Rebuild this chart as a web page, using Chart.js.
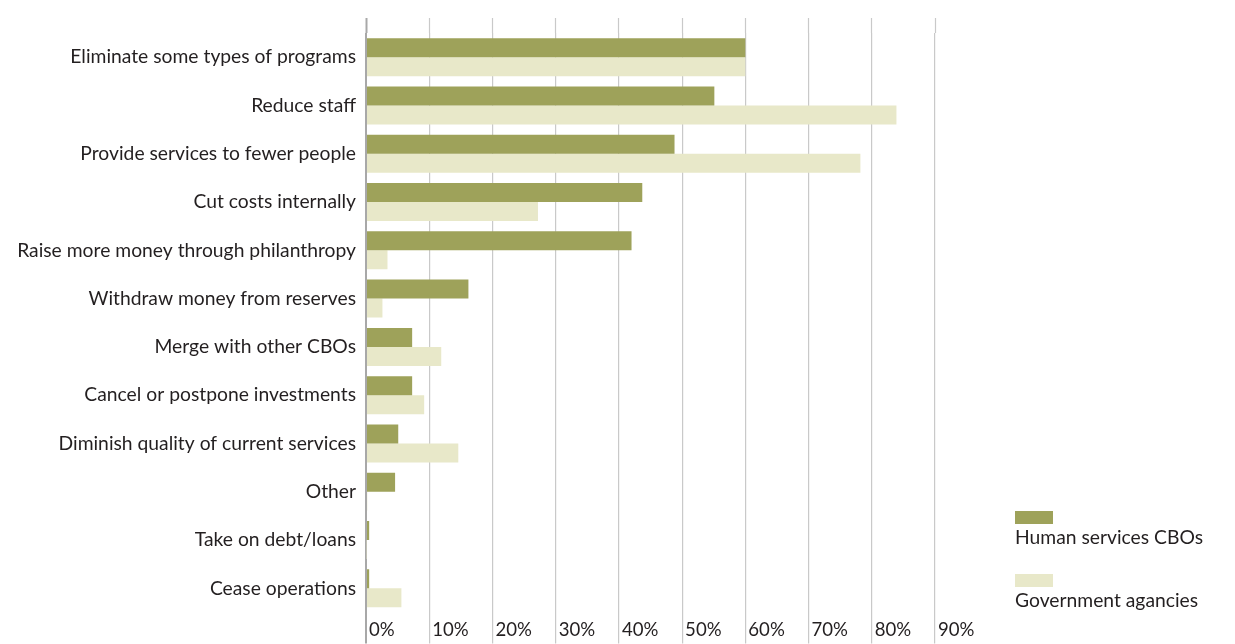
<!DOCTYPE html>
<html lang="en">
<head>
    <meta charset="UTF-8">
    <title>Responses to funding cuts</title>
    <script src="https://cdn.jsdelivr.net/npm/chart.js@4.4.1/dist/chart.umd.min.js"></script>
    <style>
        body {
            margin: 0;
            background: #ffffff;
            font-family: 'Lato', sans-serif;
            color: #231f20;
        }
        .wrap {
            position: relative;
            width: 1235px;
            height: 644px;
        }
        #legend {
            position: absolute;
            left: 1015px;
            top: 511px;
        }
        .legend-item {
            margin-bottom: 25px;
        }
        .legend-box {
            width: 38px;
            height: 13px;
        }
        .legend-text {
            font-size: 19.3px;
            line-height: 24px;
            margin-top: 1px;
        }
    </style>
</head>
<body>
    <div class="wrap">
        <canvas id="chart" width="1235" height="644"></canvas>
        <div id="legend"></div>
    </div>

    <script>
        const categories = [
            'Eliminate some types of programs',
            'Reduce staff',
            'Provide services to fewer people',
            'Cut costs internally',
            'Raise more money through philanthropy',
            'Withdraw money from reserves',
            'Merge with other CBOs',
            'Cancel or postpone investments',
            'Diminish quality of current services',
            'Other',
            'Take on debt/loans',
            'Cease operations'
        ];
        const humanServices = [60, 55.1, 48.8, 43.7, 42.0, 16.2, 7.3, 7.3, 5.1, 4.6, 0.5, 0.5];
        const government = [60, 83.9, 78.2, 27.2, 3.4, 2.6, 11.9, 9.2, 14.6, 0.2, 0.1, 5.6];
        const seriesNames = ['Human services CBOs', 'Government agancies'];
        const tickValues = [0, 10, 20, 30, 40, 50, 60, 70, 80, 90];

        const gridGray = '#c9c9c9';
        const axisGray = '#a8a8a8';

        const ctx = document.getElementById('chart').getContext('2d');
        const chart = new Chart(ctx, {
            type: 'bar',
            data: {
                labels: categories,
                datasets: [{
                    label: seriesNames[0],
                    data: humanServices,
                    backgroundColor: '#9ea25a',
                    borderWidth: 0
                }, {
                    label: seriesNames[1],
                    data: government,
                    backgroundColor: '#e8e8c9',
                    borderWidth: 0
                }]
            },
            options: {
                indexAxis: 'y',
                responsive: false,
                animation: false,
                layout: {
                    padding: { left: 0, right: 300, top: 0, bottom: 0 }
                },
                datasets: {
                    bar: {
                        categoryPercentage: 0.787,
                        barPercentage: 1.0
                    }
                },
                scales: {
                    x: {
                        position: 'bottom',
                        min: 0,
                        max: 90,
                        afterBuildTicks: (scale) => {
                            scale.ticks = tickValues.map(v => ({ value: v }));
                        },
                        afterFit: (scale) => { scale.height = 31.5; },
                        border: { display: false },
                        grid: {
                            color: (c) => (c.tick && c.tick.value === 0) ? axisGray : gridGray,
                            lineWidth: (c) => (c.tick && c.tick.value === 0) ? 2 : 1.2,
                            tickLength: 31,
                            tickColor: (c) => (c.tick && c.tick.value === 0) ? axisGray : gridGray,
                            tickWidth: (c) => (c.tick && c.tick.value === 0) ? 2 : 1.2
                        },
                        ticks: {
                            align: 'start',
                            labelOffset: 3,
                            padding: -25,
                            maxRotation: 0,
                            autoSkip: false,
                            color: '#231f20',
                            font: { family: 'Lato', size: 18.6 },
                            callback: (v) => v + '%'
                        }
                    },
                    xTop: {
                        axis: 'x',
                        position: 'top',
                        min: 0,
                        max: 90,
                        afterBuildTicks: (scale) => {
                            scale.ticks = tickValues.map(v => ({ value: v }));
                        },
                        afterFit: (scale) => { scale.height = 33; },
                        border: { display: false },
                        grid: {
                            drawOnChartArea: false,
                            tickLength: 15,
                            tickColor: (c) => (c.tick && c.tick.value === 0) ? axisGray : gridGray,
                            tickWidth: (c) => (c.tick && c.tick.value === 0) ? 2 : 1.2
                        },
                        ticks: { display: false }
                    },
                    y: {
                        afterFit: (scale) => { scale.width = 366; },
                        border: { display: false },
                        grid: { display: false, drawTicks: false },
                        ticks: {
                            padding: 10,
                            color: '#231f20',
                            font: { family: 'Lato', size: 19.3 },
                            autoSkip: false
                        }
                    }
                },
                plugins: {
                    legend: { display: false },
                    tooltip: { enabled: false }
                }
            }
        });

        // legend with the colour box above the name
        const legendEl = document.getElementById('legend');
        chart.data.datasets.forEach(ds => {
            const item = document.createElement('div');
            item.className = 'legend-item';
            const box = document.createElement('div');
            box.className = 'legend-box';
            box.style.background = ds.backgroundColor;
            const txt = document.createElement('div');
            txt.className = 'legend-text';
            txt.textContent = ds.label;
            item.appendChild(box);
            item.appendChild(txt);
            legendEl.appendChild(item);
        });
    </script>
</body>
</html>
